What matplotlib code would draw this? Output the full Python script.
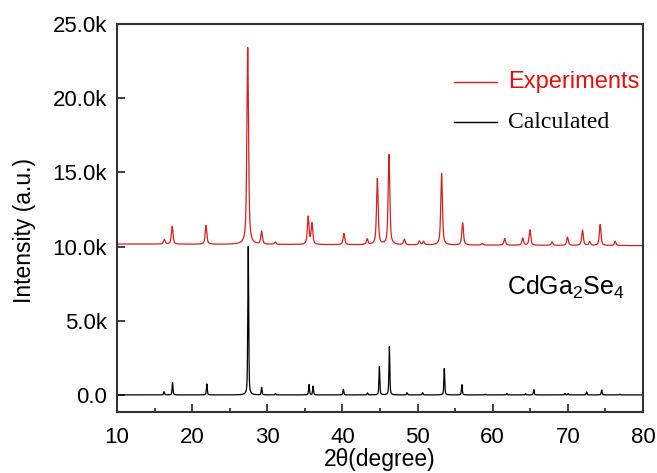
import matplotlib
matplotlib.use("Agg")
import matplotlib.pyplot as plt
import numpy as np
from matplotlib.ticker import FuncFormatter, MultipleLocator

plt.rcParams['font.family'] = ['Liberation Sans', 'DejaVu Sans']
plt.rcParams['mathtext.fontset'] = 'custom'
plt.rcParams['mathtext.rm'] = 'Liberation Sans'
plt.rcParams['mathtext.it'] = 'Liberation Sans'

# experimental pattern: peak positions (2theta) and peak tops (counts)
exp_pos = [16.3, 17.35, 21.85, 27.4, 29.25, 31.05, 35.45, 35.95, 40.2, 43.3,
           44.65, 46.2, 48.25, 50.25, 50.8, 53.2, 56.0, 58.6, 61.6, 64.0,
           64.95, 67.9, 69.95, 71.95, 72.9, 74.3, 76.3]
exp_top = [10470, 11370, 11420, 23400, 11050, 10300, 12000, 11620, 10880, 10500,
           14570, 16200, 10500, 10370, 10350, 14930, 11600, 10220, 10540, 10560,
           11130, 10300, 10630, 11100, 10330, 11490, 10350]
exp_base_start = 10170
exp_base_end = 10060

# calculated pattern
calc_pos = [16.27, 17.4, 21.96, 27.47, 29.25, 31.1, 35.56, 36.1, 40.13, 43.33,
            44.92, 46.25, 48.6, 50.67, 53.56, 55.9, 59.0, 61.87, 64.36, 65.47,
            69.6, 70.04, 72.5, 74.5, 76.9]
calc_top = [220, 830, 740, 10000, 510, 100, 700, 600, 380, 130,
            1900, 3250, 150, 150, 1780, 690, 50, 100, 100, 360,
            100, 100, 200, 330, 50]


def pattern(x, pos, top, base, w, eta):
    y = np.array(base, dtype=float)
    for p, h in zip(pos, top):
        d = (x - p) / w
        prof = eta / (1 + d ** 2) + (1 - eta) * np.exp(-np.log(2) * d ** 2)
        y = y + (h - y[np.argmin(abs(x - p))]) * prof
    return y


x = np.linspace(10, 80, 7001)
exp_base = np.interp(x, [10, 80], [exp_base_start, exp_base_end])
y_exp = pattern(x, exp_pos, exp_top, exp_base, 0.13, 0.65)
y_calc = pattern(x, calc_pos, calc_top, np.zeros_like(x), 0.07, 0.5)

fig = plt.figure(figsize=(6.57, 4.73), dpi=100)
ax = fig.add_axes([0.178, 0.129, 0.8007, 0.8203])

ax.plot(x, y_calc, color='black', lw=0.9)
ax.plot(x, y_exp, color='#d42020', lw=0.9)

ax.set_xlim(10, 80)
ax.set_ylim(-1150, 25000)
ax.xaxis.set_major_locator(MultipleLocator(10))
ax.xaxis.set_minor_locator(MultipleLocator(5))
ax.yaxis.set_major_locator(MultipleLocator(5000))


def kfmt(v, pos):
    if abs(v) < 1e-6:
        return "0.0"
    return f"{v / 1000:.1f}k"


ax.yaxis.set_major_formatter(FuncFormatter(kfmt))
ax.tick_params(which='both', direction='in', top=False, right=False,
               labelsize=16, width=1.2, color='#222222')
ax.tick_params(which='major', length=6)
ax.tick_params(which='minor', length=3)
ax.tick_params(axis='x', which='major', pad=11)
ax.tick_params(axis='y', which='major', pad=7)
for s in ax.spines.values():
    s.set_linewidth(1.5)
    s.set_color('#333333')

ax.set_xlabel('2θ(degree)', fontsize=16.5, labelpad=0)
ax.set_ylabel('Intensity (a.u.)', fontsize=16.5)
ax.yaxis.set_label_coords(-0.153, 0.469)

# legend drawn by hand so each entry keeps its own font
ax.plot([0.641, 0.722], [0.85, 0.85], transform=ax.transAxes,
        color='#d42020', lw=1)
ax.text(0.743, 0.85, 'Experiments', transform=ax.transAxes, color='#e01010',
        fontsize=17, va='center', ha='left')
ax.plot([0.641, 0.722], [0.747, 0.747], transform=ax.transAxes,
        color='black', lw=1)
ax.text(0.743, 0.747, 'Calculated', transform=ax.transAxes, color='black',
        fontsize=17, va='center', ha='left', family='Liberation Serif')

ax.text(0.742, 0.32, r'CdGa$_2$Se$_4$', transform=ax.transAxes,
        fontsize=18, va='center', ha='left')

fig.savefig('out.png', dpi=100)
